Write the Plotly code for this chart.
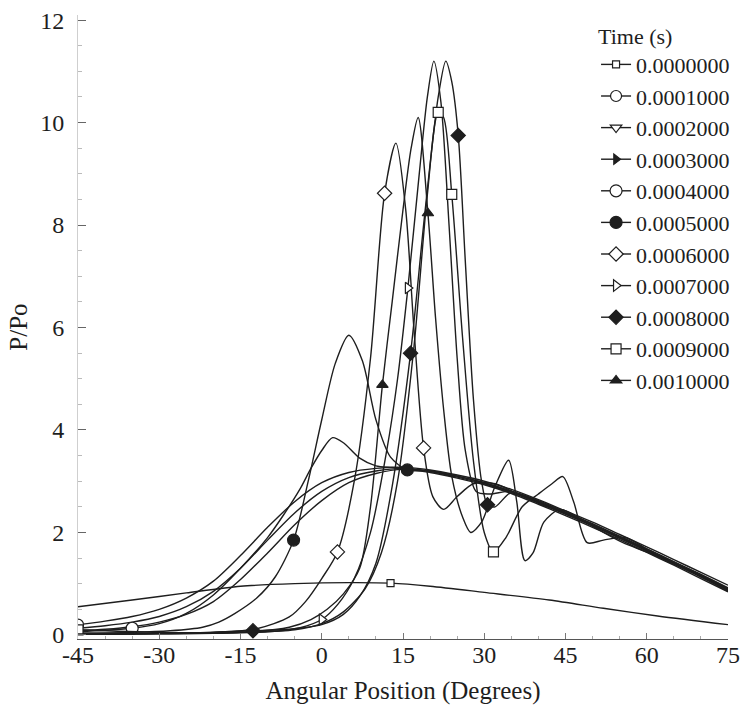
import plotly.graph_objects as go

# ---------------- data ----------------
times = ["0.0000000", "0.0001000", "0.0002000", "0.0003000", "0.0004000", "0.0005000",
         "0.0006000", "0.0007000", "0.0008000", "0.0009000", "0.0010000"]

x_t00 = [-45, -35, -25, -15, -5, 5, 12.7, 20, 30, 42, 52, 62, 75]
y_t00 = [0.55, 0.68, 0.82, 0.95, 1.0, 1.02, 1.01, 0.95, 0.83, 0.68, 0.52, 0.37, 0.2]
m_t00 = [6]

x_t01 = [-45, -40, -35, -30, -25, -20, -15, -10, -5, 0, 5, 10, 15, 20, 25, 30, 35, 40, 45, 50, 55, 60, 65, 70, 75]
y_t01 = [0.2, 0.27, 0.36, 0.5, 0.72, 1.05, 1.55, 2.1, 2.6, 2.97, 3.17, 3.25, 3.27, 3.22, 3.12, 3.0, 2.84, 2.64,
         2.42, 2.2, 1.96, 1.72, 1.47, 1.22, 0.97]
m_t01 = [0]

x_t02 = [-45, -40, -35, -30, -25, -20, -15, -10, -5, 0, 5, 10, 15, 20, 25, 30, 35, 40, 45, 50, 55, 60, 65, 70, 75]
y_t02 = [0.13, 0.18, 0.25, 0.36, 0.55, 0.85, 1.3, 1.85, 2.38, 2.8, 3.07, 3.2, 3.25, 3.2, 3.1, 2.97, 2.8, 2.6,
         2.38, 2.15, 1.91, 1.66, 1.41, 1.16, 0.9]
m_t02 = [0]

x_t03 = [-45, -40, -35, -30, -25, -20, -15, -10, -5, 0, 5, 10, 15, 20, 25, 30, 35, 40, 45, 50, 55, 60, 65, 70, 75]
y_t03 = [0.08, 0.11, 0.16, 0.25, 0.4, 0.65, 1.08, 1.6, 2.15, 2.62, 2.97, 3.15, 3.23, 3.17, 3.06, 2.93, 2.76,
         2.55, 2.33, 2.1, 1.86, 1.61, 1.36, 1.1, 0.84]
m_t03 = [0]

x_t04 = [-45, -40, -35, -30, -25, -20, -15, -10, -7, -4, -2, 0, 2, 4, 7, 10, 13, 15, 20, 25, 30, 35, 40, 45,
         50, 55, 60, 65, 70, 75]
y_t04 = [0.06, 0.09, 0.13, 0.22, 0.42, 0.78, 1.3, 1.9, 2.35, 2.85, 3.25, 3.6, 3.85, 3.75, 3.45, 3.3, 3.27, 3.25,
         3.19, 3.08, 2.95, 2.78, 2.58, 2.36, 2.13, 1.89, 1.64, 1.39, 1.14, 0.87]
m_t04 = [2]

x_t05 = [-45, -35, -28, -22, -19, -16, -12, -8.6, -5.2, -2.5, 0, 2.5, 5, 7.5, 10, 12.7, 15.8, 20, 25, 30, 35,
         40, 45, 50, 55, 60, 65, 70, 75]
y_t05 = [0.04, 0.05, 0.08, 0.15, 0.25, 0.42, 0.72, 1.13, 1.85, 3.0, 4.2, 5.3, 5.85, 5.35, 4.2, 3.47, 3.22, 3.2,
         3.1, 2.97, 2.8, 2.6, 2.38, 2.15, 1.91, 1.66, 1.41, 1.16, 0.9]
m_t05 = [8, 16]

x_t06 = [-45, -30, -20, -12, -6, -3, 0, 2.9, 6, 9, 11.6, 13.7, 15.5, 17, 18.8, 20.5, 22.5, 25, 28, 32, 36, 40,
         45, 50, 55, 60, 65, 70, 75]
y_t06 = [0.02, 0.03, 0.05, 0.12, 0.35, 0.65, 1.1, 1.62, 3.0, 5.4, 8.62, 9.6, 8.3, 6.0, 3.65, 2.7, 2.45, 2.7,
         2.95, 2.95, 2.76, 2.57, 2.36, 2.13, 1.89, 1.64, 1.39, 1.14, 0.87]
m_t06 = [7, 10, 14]

x_t07 = [-45, -30, -20, -10, -4, 0, 3, 6, 9, 12, 14, 15.9, 18, 19.5, 20.7, 22, 23.5, 25, 26.5, 28.5, 31, 35,
         40, 45, 50, 55, 60, 65, 70, 75]
y_t07 = [0.01, 0.02, 0.03, 0.06, 0.14, 0.3, 0.6, 1.1, 2.0, 3.6, 5.0, 6.77, 9.0, 10.5, 11.2, 10.4, 8.0, 5.4,
         3.6, 2.8, 2.75, 2.8, 2.6, 2.38, 2.15, 1.91, 1.66, 1.41, 1.16, 0.9]
m_t07 = [5, 11]

x_t08 = [-45, -30, -12.7, -5, 0, 4, 7, 10, 13, 16.4, 19, 21.5, 22.9, 24, 25.2, 26.5, 28, 29.5, 30.6, 32, 35,
         40, 45, 50, 55, 60, 65, 70, 75]
y_t08 = [0.01, 0.02, 0.08, 0.12, 0.2, 0.4, 0.75, 1.4, 2.9, 5.5, 8.2, 10.5, 11.2, 10.8, 9.75, 7.3, 4.6, 3.0,
         2.54, 2.5, 2.78, 2.62, 2.4, 2.17, 1.93, 1.68, 1.43, 1.18, 0.92]
m_t08 = [2, 9, 14, 18]

x_t09 = [-45, -30, -15, -5, 0, 4, 8, 11, 14, 17, 19.5, 21.5, 22.5, 24, 26, 28, 30, 31.7, 34, 37, 40, 42.5,
         44.5, 46.5, 49, 52, 56, 60, 65, 70, 75]
y_t09 = [0.1, 0.05, 0.05, 0.1, 0.22, 0.45, 0.9, 1.6, 3.0, 5.6, 8.6, 10.2, 10.1, 8.6, 5.8, 3.4, 2.0, 1.62,
         1.9, 2.5, 2.75, 2.95, 3.09, 2.6, 1.8, 1.85, 1.9, 1.68, 1.42, 1.17, 0.9]
m_t09 = [0, 11, 13, 17]

x_t10 = [-45, -30, -15, -6, -2, 1, 4, 7, 9, 11.2, 13, 15, 16.5, 17.8, 19.6, 21, 22.5, 24, 26, 27.5, 29.5, 32,
         34.5, 36, 37.5, 39, 41, 44, 48, 52, 56, 60, 65, 70, 75]
y_t10 = [0.02, 0.03, 0.05, 0.15, 0.3, 0.5, 0.8, 1.3, 2.5, 4.88, 6.5, 8.3, 9.5, 10.1, 8.23, 6.2, 4.4, 3.1, 2.3,
         2.0, 2.2, 2.9, 3.41, 2.6, 1.45, 1.6, 2.2, 2.45, 2.25, 2.0, 1.78, 1.62, 1.38, 1.13, 0.86]
m_t10 = [9, 14]

x_ticks = [-45, -30, -15, 0, 15, 30, 45, 60, 75]
y_ticks = [0, 2, 4, 6, 8, 10, 12]

# ---------------- styling ----------------
INK = "#1e1e1e"
FONT = "Liberation Serif"

series = [
    (times[0], x_t00, y_t00, m_t00),
    (times[1], x_t01, y_t01, m_t01),
    (times[2], x_t02, y_t02, m_t02),
    (times[3], x_t03, y_t03, m_t03),
    (times[4], x_t04, y_t04, m_t04),
    (times[5], x_t05, y_t05, m_t05),
    (times[6], x_t06, y_t06, m_t06),
    (times[7], x_t07, y_t07, m_t07),
    (times[8], x_t08, y_t08, m_t08),
    (times[9], x_t09, y_t09, m_t09),
    (times[10], x_t10, y_t10, m_t10),
]

marker_styles = [
    dict(symbol="square", size=7, color="white"),
    dict(symbol="circle", size=11, color="white"),
    dict(symbol="triangle-down", size=10, color="white"),
    dict(symbol="triangle-right", size=9, color=INK),
    dict(symbol="circle", size=12, color="white"),
    dict(symbol="circle", size=12, color=INK),
    dict(symbol="diamond", size=11, color="white"),
    dict(symbol="triangle-right", size=10, color="white"),
    dict(symbol="diamond", size=11, color=INK),
    dict(symbol="square", size=10, color="white"),
    dict(symbol="triangle-up", size=10, color=INK),
]

fig = go.Figure()
for (name, xs, ys, mk), ms in zip(series, marker_styles):
    line = dict(color=INK, width=1.4, shape="spline", smoothing=0.8)
    marker = dict(ms, line=dict(color=INK, width=1.2))
    fig.add_trace(go.Scatter(x=xs, y=ys, mode="lines", line=line, legendgroup=name,
                             showlegend=False, hoverinfo="skip"))
    fig.add_trace(go.Scatter(x=[xs[i] for i in mk], y=[ys[i] for i in mk], mode="markers",
                             marker=marker, legendgroup=name, showlegend=False))
    fig.add_trace(go.Scatter(x=[None], y=[None], mode="lines+markers", name=name,
                             line=dict(color=INK, width=1.4), marker=marker, legendgroup=name))

fig.update_layout(
    width=747, height=706,
    margin=dict(l=78, r=14, t=15, b=67),
    paper_bgcolor="white", plot_bgcolor="white",
    font=dict(family=FONT, color=INK, size=22),
    showlegend=True,
    legend=dict(
        x=0.797, y=1.0, xanchor="left", yanchor="top",
        bgcolor="rgba(0,0,0,0)", borderwidth=0,
        font=dict(family=FONT, size=22, color=INK),
        title=dict(text="Time (s)", font=dict(family=FONT, size=22, color=INK)),
        tracegroupgap=0,
        maxheight=1,
    ),
)

fig.update_xaxes(
    range=[-45, 75], tickmode="array", tickvals=x_ticks,
    ticktext=[str(v) for v in x_ticks],
    showgrid=False, zeroline=False, automargin=False,
    showline=True, linecolor="#555", linewidth=1,
    ticks="inside", ticklen=6, tickcolor="#777",
    minor=dict(ticks="inside", ticklen=3, dtick=5, tickcolor="#aaa"),
    tickfont=dict(family=FONT, size=24, color=INK),
    ticklabelstandoff=-6,
    title=dict(text="Angular Position (Degrees)", font=dict(family=FONT, size=25, color=INK), standoff=14),
)
fig.update_yaxes(
    range=[-0.08, 12.1], tickmode="array", tickvals=y_ticks,
    ticktext=[str(v) for v in y_ticks],
    showgrid=False, zeroline=False, automargin=False,
    showline=True, linecolor="#cfcfcf", linewidth=1,
    ticks="inside", ticklen=8, tickcolor="#666",
    minor=dict(ticks="inside", ticklen=4, dtick=0.5, tickcolor="#bbb"),
    tickfont=dict(family=FONT, size=24, color=INK),
    ticklabelstandoff=8,
    title=dict(text="P/Po", font=dict(family=FONT, size=25, color=INK), standoff=5),
)

fig.write_html("out.html", config={"displayModeBar": False},
               post_script="document.body.style.margin='0';")
